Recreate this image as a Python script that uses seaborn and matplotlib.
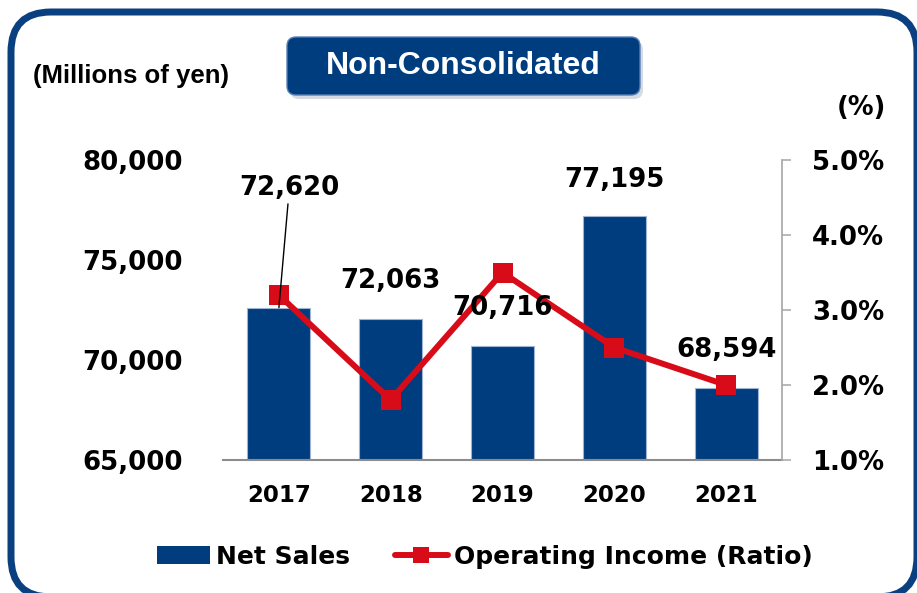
import numpy as np
import pandas as pd
import matplotlib
matplotlib.use("Agg")
import matplotlib.pyplot as plt
import seaborn as sns
from matplotlib.patches import FancyBboxPatch, Patch
from matplotlib.lines import Line2D
from matplotlib.transforms import IdentityTransform

# ---- data ----
years = ["2017", "2018", "2019", "2020", "2021"]
net_sales = [72620, 72063, 70716, 77195, 68594]
op_income_ratio = [3.2, 1.8, 3.5, 2.5, 2.0]
left_ticks = [65000, 70000, 75000, 80000]
right_ticks = [1.0, 2.0, 3.0, 4.0, 5.0]
title = "Non-Consolidated"
unit_left = "(Millions of yen)"
unit_right = "(%)"
legend_labels = ["Net Sales", "Operating Income (Ratio)"]

# ---- style ----
W, H, DPI = 917, 593, 100
NAVY = "#003D7F"
RED = "#D80C18"
BORDER = "#0A4080"
PX = 72.0 / DPI  # points per pixel
label_offsets_px = [(10.5, 120), (0, 38), (0, 38), (0, 36), (0, 38)]

sns.set_theme(style="white")
plt.rcParams["font.family"] = ["DejaVu Sans"]
plt.rcParams["text.color"] = "black"
plt.rcParams["xtick.color"] = "black"
plt.rcParams["ytick.color"] = "black"

fig = plt.figure(figsize=(W / DPI, H / DPI), dpi=DPI)
fig.patch.set_facecolor("white")


def fx(px):
    return px / W


def fy(py):
    return 1 - py / H


# outer rounded border (pixel coords)
border = FancyBboxPatch((11, H - 597), 906, 585,
                        boxstyle="round,pad=0,rounding_size=40",
                        transform=IdentityTransform(), facecolor="none",
                        edgecolor=BORDER, linewidth=7 * PX, zorder=0)
fig.patches.append(border)

# title box with shadow
shadow = FancyBboxPatch((290, H - 99), 353, 58,
                        boxstyle="round,pad=0,rounding_size=9",
                        transform=IdentityTransform(), facecolor="#8A96AA",
                        edgecolor="none", alpha=0.35, zorder=1)
fig.patches.append(shadow)
tbox = FancyBboxPatch((287, H - 95), 353, 58,
                      boxstyle="round,pad=0,rounding_size=9",
                      transform=IdentityTransform(), facecolor=NAVY,
                      edgecolor="#5A7FB5", linewidth=1, zorder=2)
fig.patches.append(tbox)
fig.text(fx(463.5), fy(66), title, color="white", fontsize=23,
         fontweight="bold", family=["Liberation Sans", "DejaVu Sans"],
         ha="center", va="center", zorder=3)

fig.text(fx(33), fy(76), unit_left, fontsize=18.5, fontweight="bold",
         color="black", family=["Liberation Sans", "DejaVu Sans"],
         ha="left", va="center")
fig.text(fx(886), fy(108), unit_right, fontsize=18.5, fontweight="bold",
         color="black", ha="right", va="center")

# ---- main axes ----
ax = fig.add_axes([fx(223), fy(460), (782 - 223) / W, (460 - 160) / H])
df = pd.DataFrame({"Year": years, "Net Sales": net_sales})
sns.barplot(data=df, x="Year", y="Net Sales", ax=ax, color=NAVY,
            saturation=1, width=0.565, edgecolor="#9FB4D3", linewidth=0.8)
ax.set_ylim(left_ticks[0], left_ticks[-1])
ax.set_xlim(-0.5, len(years) - 0.5)
ax.set_yticks(left_ticks)
ax.set_yticklabels([f"{v:,}" for v in left_ticks])
ax.set_xlabel("")
ax.set_ylabel("")
ax.tick_params(axis="y", length=0, pad=29, labelsize=18.7, labelcolor="black")
ax.tick_params(axis="x", length=0, pad=17, labelsize=16.5, labelcolor="black")
for lab in ax.get_xticklabels() + ax.get_yticklabels():
    lab.set_fontweight("bold")
for s in ["top", "left", "right"]:
    ax.spines[s].set_visible(False)
ax.spines["bottom"].set_color("#8C8C8C")
ax.spines["bottom"].set_linewidth(1.5)
ax.patch.set_visible(False)

# ---- secondary axis ----
ax2 = ax.twinx()
dfl = pd.DataFrame({"pos": np.arange(len(years)), "ratio": op_income_ratio})
sns.lineplot(data=dfl, x="pos", y="ratio", ax=ax2, color=RED, linewidth=4.3,
             marker="s", markersize=14.4, markeredgewidth=0, legend=False)
ax2.set_ylim(right_ticks[0], right_ticks[-1])
ax2.set_xlim(-0.5, len(years) - 0.5)
ax2.set_yticks(right_ticks)
ax2.set_yticklabels([f"{v:.1f}%" for v in right_ticks])
ax2.set_xlabel("")
ax2.set_ylabel("")
ax2.tick_params(axis="y", direction="out", length=6.5, width=1.1,
                color="#A6A6A6", pad=15, labelsize=18.7, labelcolor="black")
for lab in ax2.get_yticklabels():
    lab.set_fontweight("bold")
for s in ["top", "left", "bottom"]:
    ax2.spines[s].set_visible(False)
ax2.spines["right"].set_color("#A6A6A6")
ax2.spines["right"].set_linewidth(1.2)

# data labels for net sales
for i, v in enumerate(net_sales):
    dx, dy = label_offsets_px[i]
    kw = {}
    if i == 0:
        kw["arrowprops"] = dict(arrowstyle="-", color="black", lw=1.0,
                                shrinkA=0, shrinkB=0)
    ax2.annotate(f"{v:,}", xy=(i, v), xycoords=ax.transData,
                 xytext=(dx * PX, dy * PX), textcoords="offset points",
                 ha="center", va="center", fontsize=18.7, fontweight="bold",
                 color="black", zorder=5, **kw)

# legend
handles = [Patch(facecolor=NAVY, edgecolor="none"),
           Line2D([0], [0], color=RED, lw=4.3, marker="s", markersize=12,
                  markeredgewidth=0)]
leg = fig.legend(handles=handles, labels=legend_labels, loc="center",
                 bbox_to_anchor=(fx(485), fy(557)), ncol=2, frameon=False,
                 prop=dict(weight="bold", size=18), handlelength=2.1,
                 handleheight=0.72, handletextpad=0.25, columnspacing=1.8)
for t in leg.get_texts():
    t.set_color("black")

fig.savefig("out.png", dpi=DPI, facecolor="white")
